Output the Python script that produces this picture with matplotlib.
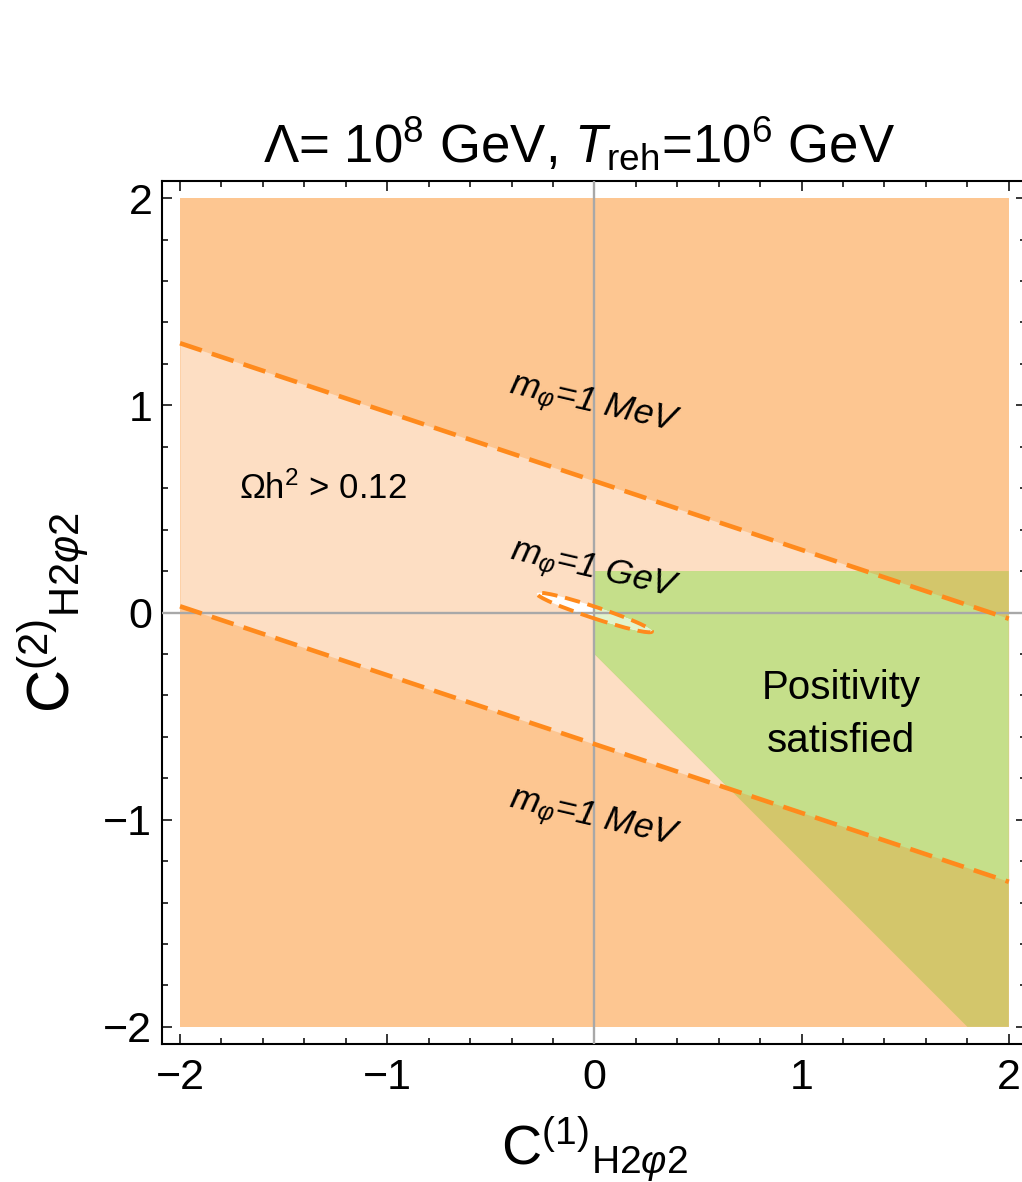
import matplotlib
matplotlib.use("Agg")
import matplotlib.pyplot as plt
from matplotlib.patches import Ellipse, Polygon

plt.rcParams['font.family'] = ['Liberation Sans', 'DejaVu Sans']
plt.rcParams['mathtext.fontset'] = 'custom'
plt.rcParams['mathtext.rm'] = 'Liberation Sans'
plt.rcParams['mathtext.it'] = 'Liberation Sans:italic'
plt.rcParams['mathtext.bf'] = 'Liberation Sans:bold'

# datos
caja_x = [-2, 2, 2, -2]
caja_y = [-2, -2, 2, 2]
banda_x = [-2, 2]
banda_sup = [1.30, -0.03]   # m_phi = 1 MeV (arriba)
banda_inf = [0.03, -1.30]   # m_phi = 1 MeV (abajo)
pos_x = [0, 2, 2, 1.8, 0]   # positividad
pos_y = [0.2, 0.2, -2, -2, -0.2]
elipse_centro = (0.0, 0.0)  # m_phi = 1 GeV
elipse_ancho = 0.585
elipse_alto = 0.055
elipse_angulo = -18.3
ticks = [-2, -1, 0, 1, 2]
tick_txt = ['\u22122', '\u22121', '0', '1', '2']

naranja = '#fdc691'
claro = '#fddec3'
verde = '#c5df8a'
oliva = '#d3c66b'
linea = '#ff8a1c'

fig = plt.figure(figsize=(10.22, 11.82), dpi=100)
ax = fig.add_axes([162/1022, 138/1182, 864/1022, 863/1182])

ax.fill(caja_x, caja_y, color=naranja, lw=0, zorder=1)
banda = ax.fill_between(banda_x, banda_inf, banda_sup, color=claro, lw=0, zorder=2)

# region de positividad: oliva sobre naranja, verde sobre la banda
ax.add_patch(Polygon(list(zip(pos_x, pos_y)), closed=True, fc=oliva, lw=0, zorder=3))
pv = Polygon(list(zip(pos_x, pos_y)), closed=True, fc=verde, lw=0, zorder=4)
ax.add_patch(pv)
pv.set_clip_path(banda.get_paths()[0], ax.transData)

ax.add_patch(Ellipse(elipse_centro, elipse_ancho, elipse_alto, angle=elipse_angulo,
                     fc='white', lw=0, zorder=5))
ev = Ellipse(elipse_centro, elipse_ancho, elipse_alto, angle=elipse_angulo,
             fc='#e2f3cb', lw=0, zorder=6)
ax.add_patch(ev)
pclip = Polygon(list(zip(pos_x, pos_y)), closed=True, transform=ax.transData)
ev.set_clip_path(pclip)

ax.axhline(0, color='#a8a8a8', lw=1.7, zorder=7)
ax.axvline(0, color='#a8a8a8', lw=1.7, zorder=7)

ax.plot(banda_x, banda_sup, color=linea, lw=3.3, dashes=(5, 2.3), zorder=8)
ax.plot(banda_x, banda_inf, color=linea, lw=3.3, dashes=(5, 2.3), zorder=8)
ax.add_patch(Ellipse(elipse_centro, elipse_ancho, elipse_alto, angle=elipse_angulo,
                     fill=False, ec=linea, lw=2.8, ls=(0, (4, 2)), zorder=8))

etiqueta_m = dict(fontsize=25.5, style='italic', rotation=-13, ha='center', va='center',
                  rotation_mode='anchor', zorder=9)
ax.text(0, 1.0, r'$m_\varphi$=1 MeV', **etiqueta_m)
ax.text(0, 0.2, r'$m_\varphi$=1 GeV', **etiqueta_m)
ax.text(0, -1.0, r'$m_\varphi$=1 MeV', **etiqueta_m)
ax.text(-1.31, 0.60, r'$\mathrm{\Omega h^2}$ > 0.12', fontsize=25, ha='center', va='center', zorder=9)
ax.text(1.19, -0.49, 'Positivity\nsatisfied', fontsize=29, ha='center', va='center',
        linespacing=1.5, zorder=9)

ax.set_xlim(-2.087, 2.083)
ax.set_ylim(-2.083, 2.083)
ax.set_xticks(ticks)
ax.set_yticks(ticks)
ax.set_xticklabels(tick_txt)
ax.set_yticklabels(tick_txt)
ax.set_xticks([t/5 for t in range(-10, 11)], minor=True)
ax.set_yticks([t/5 for t in range(-10, 11)], minor=True)
ax.tick_params(which='both', direction='in', top=True, right=True, width=1.1, labelsize=31)
ax.tick_params(which='major', length=7)
ax.tick_params(which='minor', length=4)
ax.tick_params(axis='x', pad=10)
ax.tick_params(axis='y', pad=7)
for s in ax.spines.values():
    s.set_linewidth(1.5)

ax.set_xlabel(r'$\mathrm{C^{(1)}}{}_{\mathrm{H2}\varphi\mathrm{2}}$', fontsize=40, labelpad=12)
ax.set_ylabel(r'$\mathrm{C^{(2)}}{}_{\mathrm{H2}\varphi\mathrm{2}}$', fontsize=43, labelpad=8)
ax.set_title(r'$\mathrm{\Lambda}$= 10$^8$ GeV, $T_\mathrm{reh}$=10$^6$ GeV', fontsize=38, pad=14, x=0.483)

fig.savefig('out.png', dpi=100)
